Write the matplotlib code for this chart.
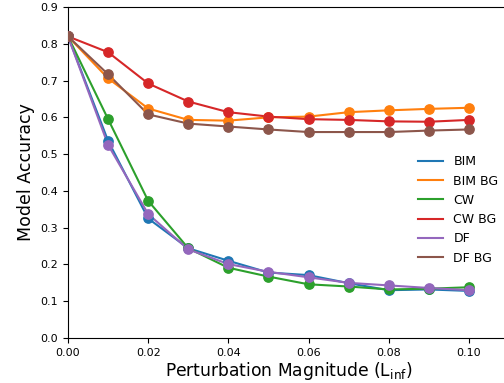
import numpy as np
import matplotlib
matplotlib.use("Agg")
import matplotlib.pyplot as plt

eps = [0.0, 0.01, 0.02, 0.03, 0.04, 0.05, 0.06, 0.07, 0.08, 0.09, 0.10]

bim = [0.82, 0.536, 0.325, 0.244, 0.210, 0.178, 0.171, 0.149, 0.130, 0.132, 0.128]
bim_bg = [0.82, 0.706, 0.624, 0.593, 0.591, 0.600, 0.602, 0.614, 0.619, 0.623, 0.626]
cw = [0.82, 0.595, 0.373, 0.244, 0.191, 0.167, 0.146, 0.140, 0.132, 0.134, 0.138]
cw_bg = [0.82, 0.777, 0.692, 0.643, 0.614, 0.602, 0.595, 0.593, 0.589, 0.588, 0.593]
df = [0.82, 0.525, 0.337, 0.241, 0.201, 0.180, 0.165, 0.150, 0.143, 0.136, 0.130]
df_bg = [0.82, 0.717, 0.608, 0.583, 0.575, 0.567, 0.560, 0.560, 0.560, 0.564, 0.567]

series = [
    ("BIM", bim, "tab:blue"),
    ("BIM BG", bim_bg, "tab:orange"),
    ("CW", cw, "tab:green"),
    ("CW BG", cw_bg, "tab:red"),
    ("DF", df, "tab:purple"),
    ("DF BG", df_bg, "tab:brown"),
]

fig = plt.figure(figsize=(5.04, 3.83), dpi=100)
ax = fig.add_axes([68 / 504, 45 / 383, 441 / 504, 331 / 383])

# lines carry the legend, dots drawn separately
for name, vals, color in series:
    ax.plot(eps, vals, color=color, linewidth=1.5, label=name)
for name, vals, color in series:
    ax.scatter(eps, vals, color=color, s=45, zorder=3)

ax.set_xlim(0, 0.11)
ax.set_ylim(0, 0.9)
ax.set_xticks([0.0, 0.02, 0.04, 0.06, 0.08, 0.10])
ax.set_yticks(np.arange(0, 0.91, 0.1))
ax.tick_params(labelsize=8)
ax.set_xlabel("Perturbation Magnitude (L$_{\\mathrm{inf}}$)", fontsize=12.3, labelpad=2)
ax.set_ylabel("Model Accuracy", fontsize=12.5)
ax.legend(loc="center left", bbox_to_anchor=(0.769, 0.387), frameon=False, fontsize=9)

fig.savefig("out.png", dpi=100)
